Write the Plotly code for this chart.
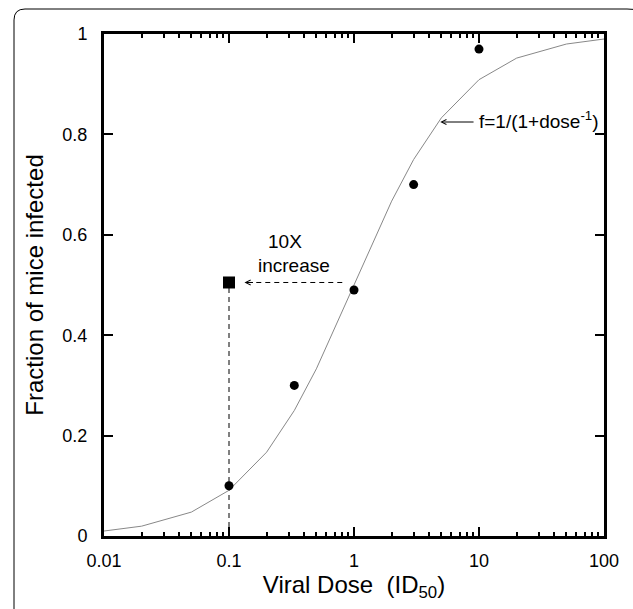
import math
import plotly.graph_objects as go

# Model curve (vertices)
curve_dose = [0.01, 0.02, 0.05, 0.1, 0.2, 0.333, 0.5, 1, 2, 3, 5, 10, 20, 50, 100]
curve_frac = [0.0099, 0.0196, 0.0476, 0.091, 0.167, 0.25, 0.333, 0.5, 0.667, 0.75, 0.833, 0.909, 0.952, 0.98, 0.99]

# Observed data
obs_dose = [0.1, 0.333, 1, 3, 10]
obs_frac = [0.1, 0.3, 0.49, 0.7, 0.97]

# Highlighted point
sq_dose = [0.1]
sq_frac = [0.505]

x_tickvals = [0.01, 0.1, 1, 10, 100]
x_ticktext = ["0.01", "0.1", "1", "10", "100"]
y_tickvals = [0, 0.2, 0.4, 0.6, 0.8, 1]
y_ticktext = ["0", "0.2", "0.4", "0.6", "0.8", "1"]

FONT = "Liberation Sans, Arial, Helvetica, sans-serif"
L = math.log10

fig = go.Figure()

# dashed vertical line from square down to axis
fig.add_trace(go.Scatter(x=[sq_dose[0], sq_dose[0]], y=[0, sq_frac[0]], mode="lines",
                         line=dict(color="black", width=1, dash="5px,4px"), hoverinfo="skip"))

fig.add_trace(go.Scatter(x=curve_dose, y=curve_frac, mode="lines",
                         line=dict(color="#888888", width=1), hoverinfo="skip"))
fig.add_trace(go.Scatter(x=obs_dose, y=obs_frac, mode="markers",
                         marker=dict(color="black", size=9, symbol="circle")))
fig.add_trace(go.Scatter(x=sq_dose, y=sq_frac, mode="markers",
                         marker=dict(color="black", size=12, symbol="square")))

# dashed horizontal arrow (square <- point)
fig.add_trace(go.Scatter(x=[0.14, 0.85], y=[sq_frac[0], sq_frac[0]], mode="lines",
                         line=dict(color="black", width=1, dash="5px,4px"), hoverinfo="skip"))
fig.add_annotation(x=L(0.133), y=sq_frac[0], ax=L(0.16), ay=sq_frac[0],
                   xref="x", yref="y", axref="x", ayref="y", text="", showarrow=True,
                   arrowhead=5, arrowsize=1, arrowwidth=1, arrowcolor="black")

fig.add_annotation(x=L(0.28), y=0.586, xref="x", yref="y", text="10X", showarrow=False,
                   font=dict(family=FONT, size=19, color="black"))
fig.add_annotation(x=L(0.33), y=0.538, xref="x", yref="y", text="increase", showarrow=False,
                   font=dict(family=FONT, size=19, color="black"))

# label arrow for the curve
fig.add_annotation(x=L(4.9), y=0.8247, ax=L(9.3), ay=0.8247,
                   xref="x", yref="y", axref="x", ayref="y", text="", showarrow=True,
                   arrowhead=5, arrowsize=1, arrowwidth=1, arrowcolor="black")
fig.add_annotation(x=L(9.6), y=0.828, xref="x", yref="y", xanchor="left",
                   text="f=1/(1+dose<sup>-1</sup>)", showarrow=False,
                   font=dict(family=FONT, size=19, color="black"))

# rounded frame around figure (right side runs off the page)
fig.add_shape(type="path", xref="paper", yref="paper",
              path="M -0.18,-0.2 L -0.18,1.028 Q -0.18,1.0498 -0.158,1.0498 "
                   "L 1.046,1.0498 Q 1.1,1.0498 1.1,1.0 L 1.1,-0.2",
              line=dict(color="black", width=1))

axis_common = dict(showline=True, linecolor="black", linewidth=3, mirror="allticks",
                   ticks="inside", tickcolor="black", tickwidth=2, ticklen=9,
                   showgrid=False, zeroline=False,
                   tickfont=dict(family=FONT, size=18, color="black"))

fig.update_xaxes(type="log", range=[-2, 2], tickvals=x_tickvals, ticktext=x_ticktext,
                 minor=dict(ticks="inside", ticklen=4, tickwidth=2, tickcolor="black",
                            dtick="D1", showgrid=False),
                 ticklabelstandoff=6,
                 title=dict(text="Viral Dose  (ID<sub>50</sub>)", standoff=2,
                            font=dict(family=FONT, size=24, color="black")),
                 **axis_common)
fig.update_yaxes(range=[0, 1], tickvals=y_tickvals, ticktext=y_ticktext,
                 ticklabelstandoff=10,
                 title=dict(text="Fraction of mice infected", standoff=12,
                            font=dict(family=FONT, size=24, color="black")),
                 **axis_common)

fig.update_layout(width=633, height=609, showlegend=False,
                  margin=dict(l=104, r=29, t=34, b=73),
                  plot_bgcolor="white", paper_bgcolor="white",
                  font=dict(family=FONT, color="black"))

# drop the page's default body margin so the figure fills the window exactly
fig.write_html("out.html", config={"displayModeBar": False},
               post_script="document.body.style.margin='0';"
                           "document.body.style.overflow='hidden';")
